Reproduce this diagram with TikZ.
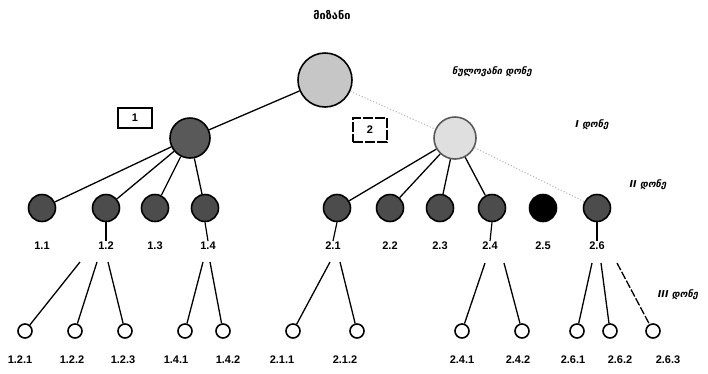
\documentclass[tikz,border=0pt]{standalone}
\usepackage{fontspec}
\setmainfont{Liberation Sans}
\newfontfamily\geo{DejaVu Sans}
\begin{document}
\begin{tikzpicture}[x=1pt,y=-1pt,
  edge/.style={line width=1.3pt},
  dotedge/.style={gray!55,line width=1.1pt,dotted},
  big/.style={circle,draw=black,line width=1.6pt,minimum size=#1,inner sep=0pt},
  mid/.style={circle,draw=black,line width=1.6pt,fill=black!70,minimum size=27pt,inner sep=0pt},
  leaf/.style={circle,draw=black,line width=1.6pt,fill=white,minimum size=14pt,inner sep=0pt},
  lbl/.style={font=\bfseries\fontsize{11}{13}\selectfont,inner sep=1pt},
  geol/.style={font=\geo\bfseries\itshape\fontsize{9.5}{11}\selectfont,inner sep=1pt},
  numbox/.style={draw=black,line width=1.3pt,minimum width=34pt,minimum height=20pt,font=\bfseries\fontsize{11}{13}\selectfont}
]
\useasboundingbox (0,0) rectangle (708,373);
% title
\node[font=\geo\bfseries\fontsize{11}{13}\selectfont] (title) at (332,15) {მიზანი};
% root and level I
\node[big=54pt,fill=gray!45] (r) at (325,80) {};
\node[big=40pt,fill=black!65] (n1) at (190,138) {};
\node[big=42pt,fill=gray!25,draw=gray!70!black] (n2) at (455,138) {};
\node[numbox] (b1) at (135,118) {1};
\node[numbox,dash pattern=on 10pt off 2pt,minimum height=24pt] (b2) at (370,130) {2};
\node[geol] (t0) at (492,72) {ნულოვანი დონე};
\node[geol] (t1) at (592,125) {I დონე};
\node[geol] (t2) at (648,185) {II დონე};
\node[geol] (t3) at (678,295) {III დონე};
% level II
\foreach \n/\x in {11/42,12/106,13/155,14/205,21/337,22/390,23/440,24/492,26/597}{
  \node[mid] (c\n) at (\x,208) {};
}
\node[mid,fill=black] (c25) at (543,208) {};
\node[lbl] (l11) at (42,246) {1.1};
\node[lbl] (l12) at (106,246) {1.2};
\node[lbl] (l13) at (155,246) {1.3};
\node[lbl] (l14) at (208,246) {1.4};
\node[lbl] (l21) at (333,246) {2.1};
\node[lbl] (l22) at (390,246) {2.2};
\node[lbl] (l23) at (440,246) {2.3};
\node[lbl] (l24) at (490,246) {2.4};
\node[lbl] (l25) at (543,246) {2.5};
\node[lbl] (l26) at (597,246) {2.6};
% level III
\foreach \n/\x in {121/25,122/75,123/125,141/185,142/223,211/293,212/357,241/462,242/522,261/577,262/610,263/653}{
  \node[leaf] (d\n) at (\x,331) {};
}
\node[lbl] (m121) at (20,360) {1.2.1};
\node[lbl] (m122) at (72,360) {1.2.2};
\node[lbl] (m123) at (123,360) {1.2.3};
\node[lbl] (m141) at (176,360) {1.4.1};
\node[lbl] (m142) at (228,360) {1.4.2};
\node[lbl] (m211) at (282,360) {2.1.1};
\node[lbl] (m212) at (345,360) {2.1.2};
\node[lbl] (m241) at (462,360) {2.4.1};
\node[lbl] (m242) at (518,360) {2.4.2};
\node[lbl] (m261) at (573,360) {2.6.1};
\node[lbl] (m262) at (620,360) {2.6.2};
\node[lbl] (m263) at (668,360) {2.6.3};
% connectors
\draw[edge] (r) -- (n1);
\draw[dotedge] (r) -- (n2);
\foreach \c in {11,12,13,14}{\draw[edge] (n1) -- (c\c);}
\foreach \c in {21,22,23,24}{\draw[edge] (n2) -- (c\c);}
\draw[dotedge] (n2) -- (c26);
% ticks from circles to labels
\foreach \c in {12,14,21,24,26}{\draw[line width=1.2pt] (c\c.south) -- (l\c.north);}
% fan-out coordinates below labels
\coordinate (s121) at (80,262);
\coordinate (s122) at (97,262);
\coordinate (s123) at (108,262);
\coordinate (s141) at (203,262);
\coordinate (s142) at (210,262);
\coordinate (s211) at (330,262);
\coordinate (s212) at (340,262);
\coordinate (s241) at (485,263);
\coordinate (s242) at (504,263);
\coordinate (s261) at (592,263);
\coordinate (s262) at (601,263);
\coordinate (s263) at (617,263);
\foreach \d in {121,122,123,141,142,211,212,241,242,261,262}{\draw[edge] (s\d) -- (d\d);}
\draw[edge,dash pattern=on 8pt off 2pt] (s263) -- (d263);
\end{tikzpicture}
\end{document}
